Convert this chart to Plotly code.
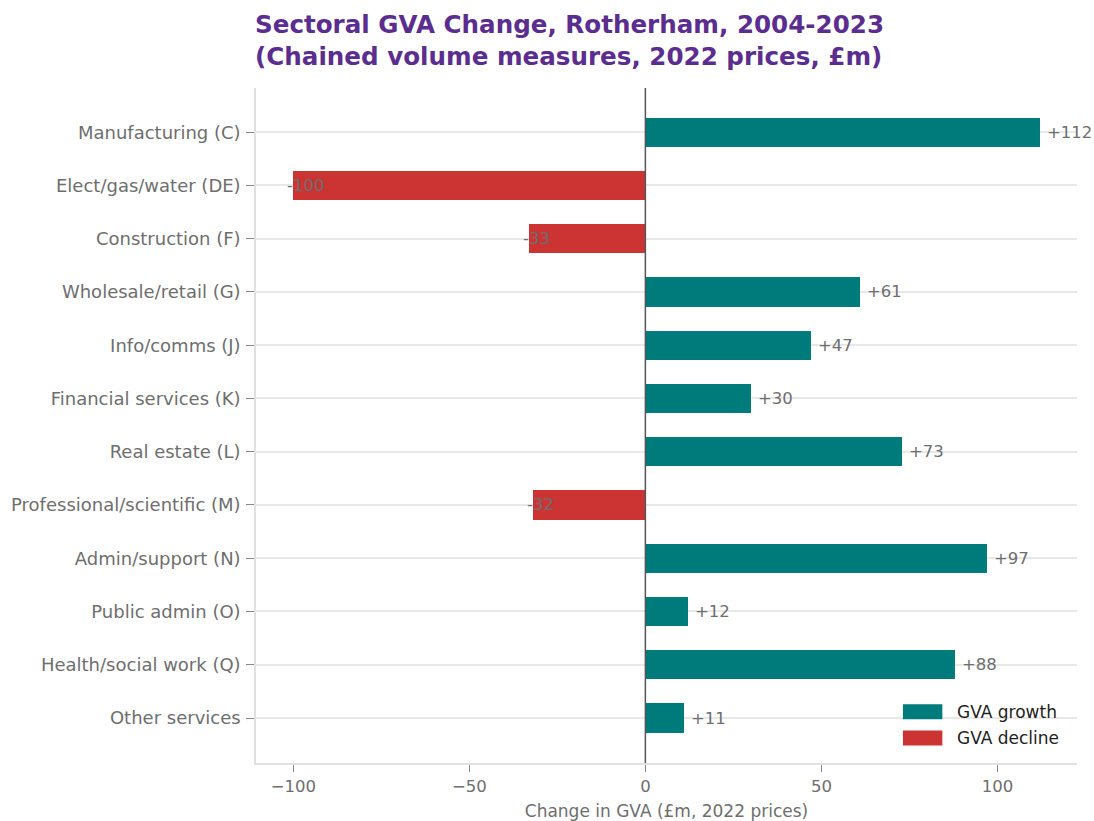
import plotly.graph_objects as go

# Sector GVA change, Rotherham 2004-2023 (chained volume, 2022 prices, £m)
sectors = [
    "Manufacturing (C)",
    "Elect/gas/water (DE)",
    "Construction (F)",
    "Wholesale/retail (G)",
    "Info/comms (J)",
    "Financial services (K)",
    "Real estate (L)",
    "Professional/scientific (M)",
    "Admin/support (N)",
    "Public admin (O)",
    "Health/social work (Q)",
    "Other services",
]
gva_change = [112, -100, -33, 61, 47, 30, 73, -32, 97, 12, 88, 11]

x_ticks = [-100, -50, 0, 50, 100]
x_tick_text = ["\u2212100", "\u221250", "0", "50", "100"]

series_names = ["GVA growth", "GVA decline"]
GROWTH = "#007B7B"
DECLINE = "#CC3333"
TEXT = "#6E6E6E"
FONT = "DejaVu Sans"

pos = list(range(len(sectors)))
colors = [GROWTH if v >= 0 else DECLINE for v in gva_change]

fig = go.Figure()
fig.add_trace(go.Bar(
    x=gva_change, y=pos, orientation="h", width=0.55,
    marker=dict(color=colors, line=dict(width=0)),
    showlegend=False, hoverinfo="x+y",
))

# value labels: growth to the right of bar end, decline starting just left of it
for p, v in zip(pos, gva_change):
    if v >= 0:
        fig.add_annotation(x=v, y=p, text=f"+{v}", showarrow=False,
                           xanchor="left", xshift=5, font=dict(size=16.5, color=TEXT, family=FONT))
    else:
        fig.add_annotation(x=v, y=p, text=f"{v}", showarrow=False,
                           xanchor="left", xshift=-8, font=dict(size=16.5, color=TEXT, family=FONT))

# zero reference line
fig.add_shape(type="line", xref="x", yref="paper", x0=0, x1=0, y0=0, y1=1,
              line=dict(color="#555555", width=1.5), layer="above")

# legend drawn as patches + labels in the lower right
leg_y = [0.076, 0.037]
for name, col, yy in zip(series_names, [GROWTH, DECLINE], leg_y):
    fig.add_shape(type="rect", xref="paper", yref="paper",
                  x0=0.788, x1=0.836, y0=yy - 0.011, y1=yy + 0.011,
                  fillcolor=col, line=dict(width=0), layer="above")
    fig.add_annotation(xref="paper", yref="paper", x=0.852, y=yy, text=name,
                       showarrow=False, xanchor="left", yanchor="middle",
                       font=dict(size=17, color="#222222", family=FONT))

# two-line bold title above the plot area
fig.add_annotation(
    xref="paper", yref="paper", x=0, y=1.118, xanchor="left", yanchor="top",
    xshift=-3, align="left", showarrow=False,
    text="<b>Sectoral GVA Change, Rotherham, 2004-2023<br>(Chained volume measures, 2022 prices, £m)</b>",
    font=dict(size=24.6, color="#5B2D8E", family=FONT),
)

fig.update_layout(
    width=1094, height=821,
    margin=dict(l=256, r=17, t=88, b=58, autoexpand=False),
    plot_bgcolor="white", paper_bgcolor="white",
    font=dict(family=FONT, size=17, color=TEXT),
    bargap=0,
)

fig.update_xaxes(
    range=[-110.6, 122.6], tickvals=x_ticks, ticktext=x_tick_text,
    showgrid=False, zeroline=False, automargin=False,
    showline=True, linecolor="#E0E0E0", linewidth=1.5,
    ticks="outside", ticklen=7, tickcolor="#888888", tickwidth=1,
    tickfont=dict(size=16.5, color=TEXT),
    title=dict(text="Change in GVA (£m, 2022 prices)", font=dict(size=17, color=TEXT), standoff=13),
)
fig.update_yaxes(
    range=[11.845, -0.83], tickvals=pos, ticktext=sectors,
    showgrid=True, gridcolor="#E8E8E8", gridwidth=1.5,
    zeroline=False, automargin=False,
    showline=True, linecolor="#E0E0E0", linewidth=1.5,
    ticks="outside", ticklen=8, tickcolor="#888888", tickwidth=1,
    tickfont=dict(size=18, color=TEXT), ticklabelstandoff=2,
)

fig.write_html("out.html")
